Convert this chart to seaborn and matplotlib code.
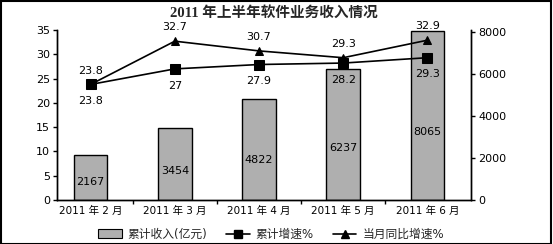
import matplotlib
matplotlib.use("Agg")
import matplotlib.pyplot as plt
import seaborn as sns
import pandas as pd
from matplotlib.patches import Patch, Rectangle
from matplotlib.lines import Line2D

sns.set_theme(style="white")
plt.rcParams['font.family'] = ['DejaVu Sans', 'Noto Sans CJK SC']

months = ["2011 年 2 月", "2011 年 3 月", "2011 年 4 月", "2011 年 5 月", "2011 年 6 月"]
revenue = [2167, 3454, 4822, 6237, 8065]
cum_growth = [23.8, 27, 27.9, 28.2, 29.3]
month_growth = [23.8, 32.7, 30.7, 29.3, 32.9]

title = "2011 年上半年软件业务收入情况"
legend_labels = ["累计收入(亿元)", "累计增速%", "当月同比增速%"]

bar_color = "#afafaf"

fig = plt.figure(figsize=(5.53, 2.44), dpi=100)
ax = fig.add_axes([0.103, 0.18, 0.749, 0.697])
ax2 = ax.twinx()

df = pd.DataFrame({"month": months, "revenue": revenue,
                   "cum": cum_growth, "mon": month_growth})

sns.barplot(data=df, x="month", y="revenue", ax=ax2, width=0.4,
            color=bar_color, edgecolor="black", linewidth=1.0,
            saturation=1)
ax2.set_ylim(0, 8100)
ax2.set_yticks([0, 2000, 4000, 6000, 8000])
ax2.set_ylabel("")

sns.lineplot(data=df, x="month", y="mon", ax=ax, color="black", lw=1.2,
             marker="^", markersize=6, markeredgecolor="black", sort=False)
sns.lineplot(data=df, x="month", y="cum", ax=ax, color="black", lw=1.2,
             marker="s", markersize=7, markeredgecolor="black", sort=False)
ax.set_ylim(0, 35)
ax.set_yticks(range(0, 36, 5))
ax.set_ylabel("")
ax.set_xlabel("")
ax2.set_xlabel("")

ax.set_zorder(ax2.get_zorder() + 1)
ax.patch.set_visible(False)

ax.set_xlim(-0.4, 4.52)

# data labels
for i, v in enumerate(revenue):
    ax2.text(i, v * 0.4, f"{v}", ha="center", va="center", fontsize=8, color="black")
for i, v in enumerate(cum_growth):
    ax.annotate(f"{v:g}", (i, v), xytext=(0, -12), textcoords="offset points",
                ha="center", va="center", fontsize=8, color="black")
for i, v in enumerate(month_growth):
    ax.annotate(f"{v:g}", (i, v), xytext=(0, 10), textcoords="offset points",
                ha="center", va="center", fontsize=8, color="black")

# axes styling
for a in (ax, ax2):
    for s in a.spines.values():
        s.set_color("black")
        s.set_linewidth(1.0)
    a.spines["top"].set_visible(False)
ax.tick_params(axis="y", which="major", direction="out", length=3, width=1,
               labelsize=8, pad=2, left=True, colors="black")
ax2.tick_params(axis="y", which="major", direction="out", length=3, width=1,
                labelsize=8, pad=2, right=True, colors="black")
ax.set_xticks(range(len(months)))
ax.set_xticklabels(months)
ax.set_xticks([0.5, 1.5, 2.5, 3.5], minor=True)
ax.tick_params(axis="x", which="major", length=0, labelsize=7.5, pad=4, colors="black")
ax.tick_params(axis="x", which="minor", length=3, width=1, direction="out",
               bottom=True, colors="black")
ax2.tick_params(axis="x", length=0)

fig.text(0.495, 0.948, title, ha="center", va="center", fontsize=10.5,
         fontweight="bold", family=["Liberation Serif", "Noto Sans CJK SC"])

handles = [
    Patch(facecolor=bar_color, edgecolor="black", linewidth=0.8),
    Line2D([0], [0], color="black", lw=1.2, marker="s", markersize=6),
    Line2D([0], [0], color="black", lw=1.2, marker="^", markersize=6),
]
fig.legend(handles, legend_labels, loc="center", bbox_to_anchor=(0.49, 0.04),
           ncol=3, frameon=False, fontsize=8.5, handlelength=2.0,
           handletextpad=0.5, columnspacing=1.6)

fig.patches.append(Rectangle((0.002, 0.002), 0.994, 0.994, transform=fig.transFigure,
                             fill=False, edgecolor="black", lw=1.5))

fig.savefig("out.png", dpi=100)
